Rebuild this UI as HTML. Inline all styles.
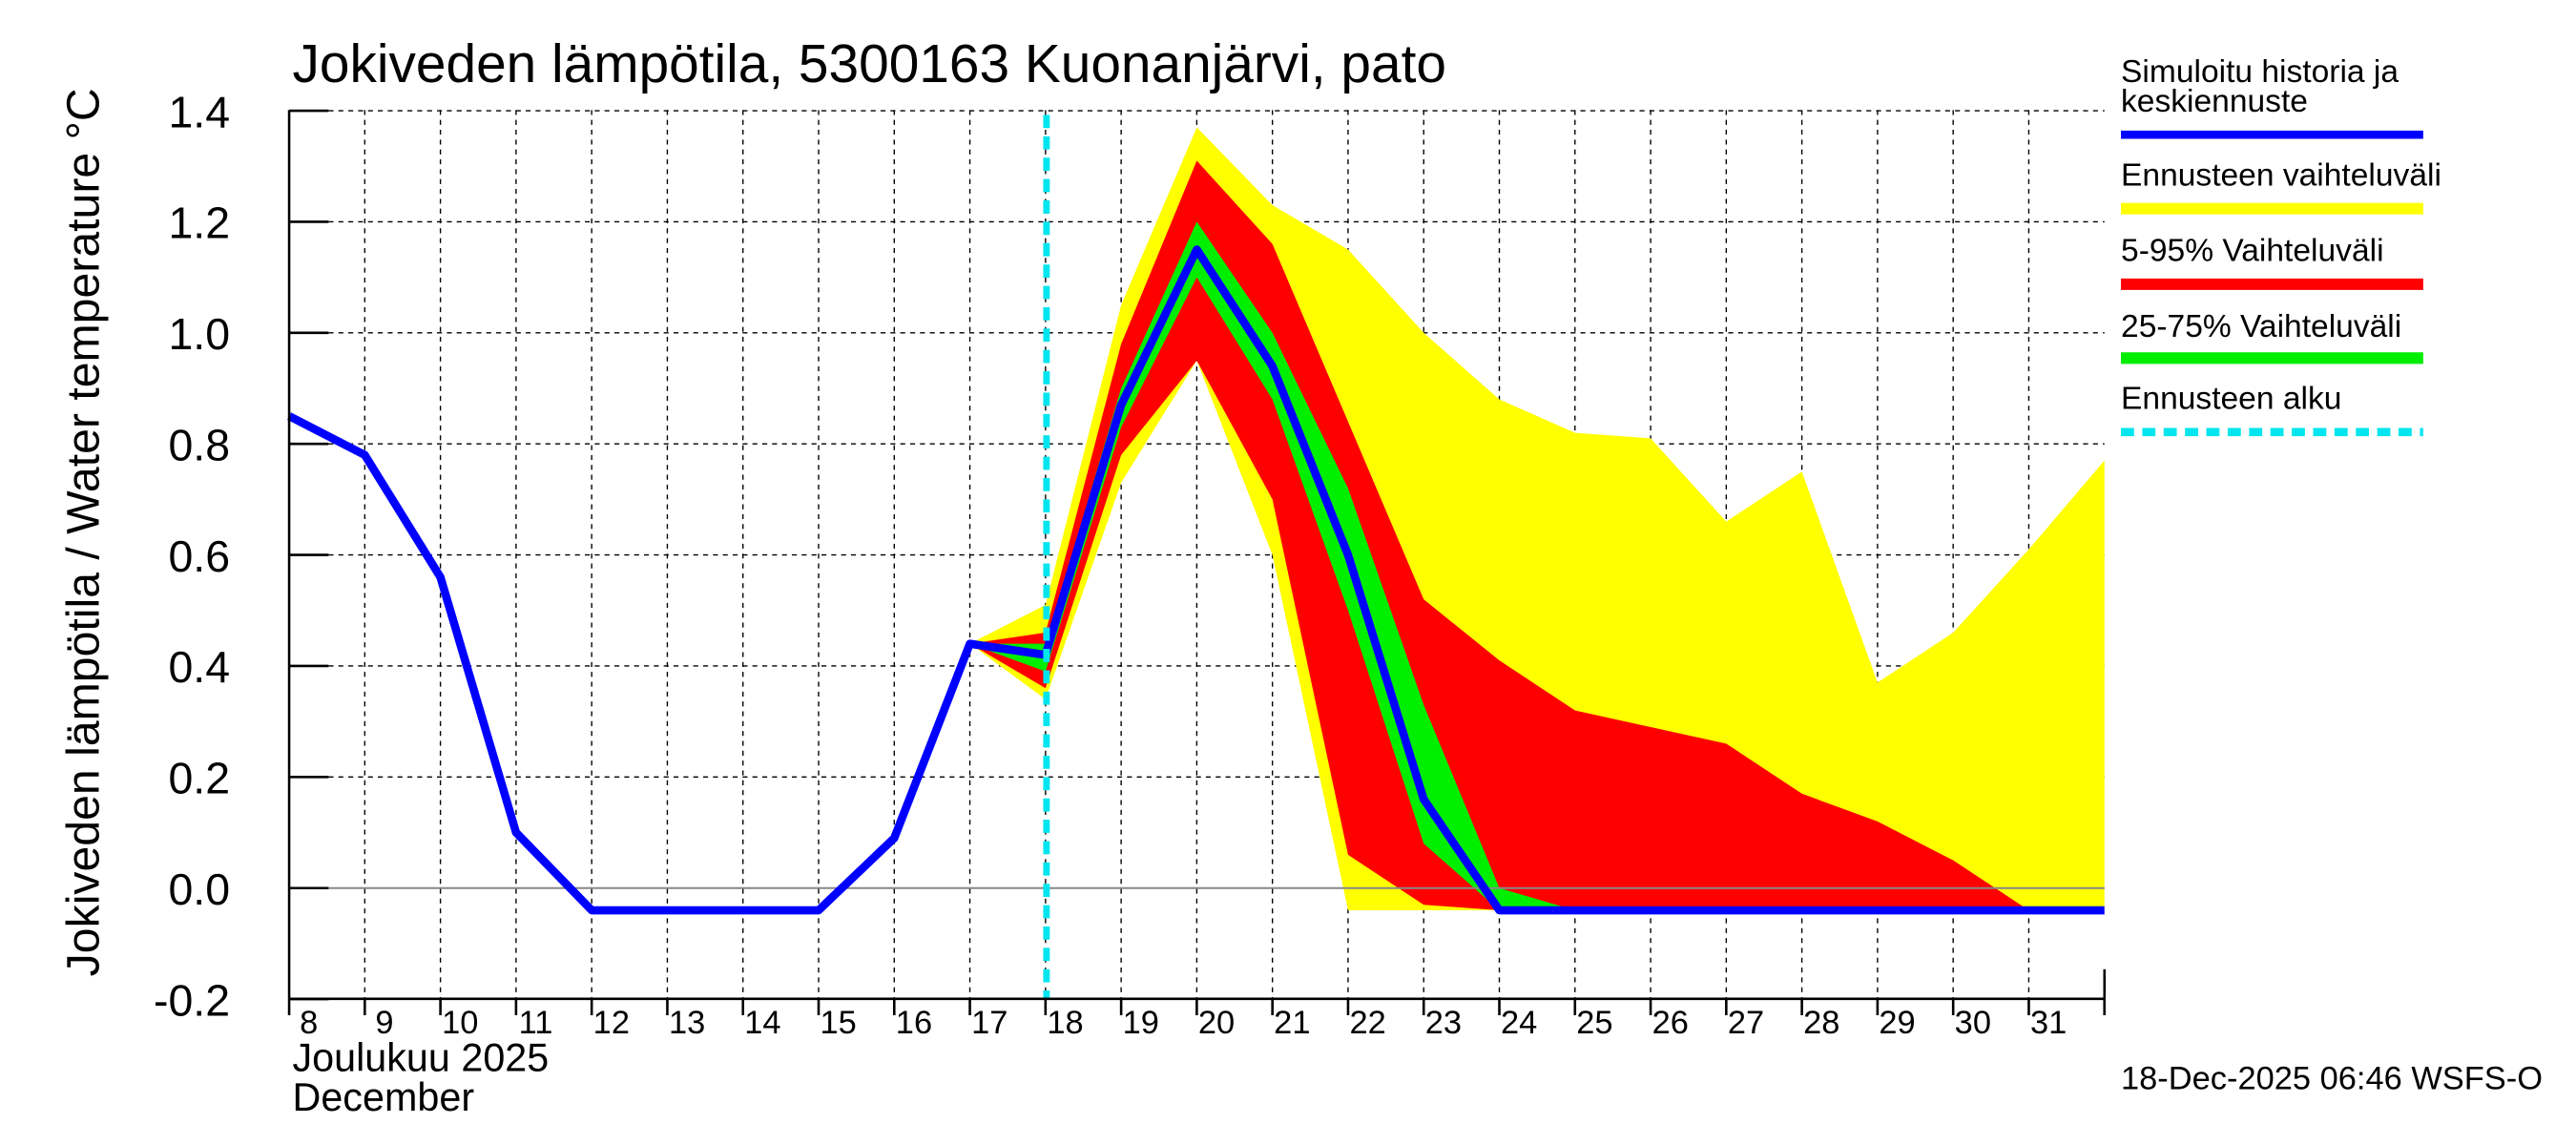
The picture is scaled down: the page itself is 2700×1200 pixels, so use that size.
<!DOCTYPE html>
<html><head><meta charset="utf-8"><style>
html,body{margin:0;padding:0;background:#fff;}
svg{display:block;}
text{font-family:"Liberation Sans",sans-serif;fill:#000;}
</style></head><body>
<svg id="s" width="2700" height="1200" viewBox="0 0 1568 697" preserveAspectRatio="none" xmlns="http://www.w3.org/2000/svg">
<rect width="1568" height="697" fill="#fff"/>
<g id="grid" stroke="#000" stroke-width="0.8" stroke-dasharray="3,3"></g>
<g id="bands"></g>
<line x1="176" y1="540.6" x2="1281" y2="540.6" stroke="#888" stroke-width="1.2"/>
<polyline id="blue" fill="none" stroke="#0000ff" stroke-width="5" stroke-linejoin="round"/>
<line x1="637" y1="70" x2="637" y2="608" stroke="#00e5ee" stroke-width="4" stroke-dasharray="8,5"/>
<g id="axes" stroke="#000" stroke-width="1.5"></g>
<g id="labels"></g>
<text x="178" y="50" font-size="33">Jokiveden lämpötila, 5300163 Kuonanjärvi, pato</text>
<text transform="translate(60,324) rotate(-90)" font-size="28" text-anchor="middle">Jokiveden lämpötila / Water temperature    °C</text>
<text x="178" y="652" font-size="24">Joulukuu  2025</text>
<text x="178" y="676" font-size="24">December</text>
<text x="1291" y="50" font-size="19.5">Simuloitu historia ja</text>
<text x="1291" y="68" font-size="19.5">keskiennuste</text>
<line x1="1291" y1="82" x2="1475" y2="82" stroke="#0000ff" stroke-width="5"/>
<text x="1291" y="113" font-size="19.5">Ennusteen vaihteluväli</text>
<line x1="1291" y1="127" x2="1475" y2="127" stroke="#ffff00" stroke-width="7"/>
<text x="1291" y="159" font-size="19.5">5-95% Vaihteluväli</text>
<line x1="1291" y1="173" x2="1475" y2="173" stroke="#ff0000" stroke-width="7"/>
<text x="1291" y="205" font-size="19.5">25-75% Vaihteluväli</text>
<line x1="1291" y1="218" x2="1475" y2="218" stroke="#00ee00" stroke-width="7"/>
<text x="1291" y="249" font-size="19.5">Ennusteen alku</text>
<line x1="1291" y1="263" x2="1475" y2="263" stroke="#00e5ee" stroke-width="5" stroke-dasharray="8,5"/>
<text x="1291" y="663" font-size="20">18-Dec-2025 06:46 WSFS-O</text>
</svg>
<script>
var NS="http://www.w3.org/2000/svg";
function X(d){return 176+(d-8)*46.04;}
function Y(v){return 540.6-v*338;}
function el(p,t,a,txt){var e=document.createElementNS(NS,t);for(var k in a)e.setAttribute(k,a[k]);if(txt!=null)e.textContent=txt;document.getElementById(p).appendChild(e);return e;}
var labs=["-0.2","0.0","0.2","0.4","0.6","0.8","1.0","1.2","1.4"];
for(var i=0;i<9;i++){var v=-0.2+i*0.2,y=Y(v);
 if(i>1)el("grid","line",{x1:176,y1:y,x2:1281,y2:y});
 el("axes","line",{x1:176,y1:y,x2:200,y2:y});
 el("labels","text",{x:140,y:y+10,"font-size":27,"text-anchor":"end"},labs[i]);}
for(var d=9;d<=31;d++){el("grid","line",{x1:X(d),y1:67,x2:X(d),y2:608});}
for(var d=8;d<=32;d++){el("axes","line",{x1:X(d),y1:608,x2:X(d),y2:618});}
for(var d=8;d<=31;d++){el("labels","text",{x:X(d)+12,y:629,"font-size":20,"text-anchor":"middle"},String(d));}
el("axes","line",{x1:176,y1:67,x2:176,y2:608});
el("axes","line",{x1:176,y1:608,x2:1281,y2:608});
el("axes","line",{x1:1281,y1:608,x2:1281,y2:590});
function band(up,lo,col){var s=[];for(var i=0;i<up.length;i++)s.push(X(up[i][0])+","+Y(up[i][1]));for(var i=lo.length-1;i>=0;i--)s.push(X(lo[i][0])+","+Y(lo[i][1]));el("bands","polygon",{points:s.join(" "),fill:col});}
band([[17,.44],[18,.51],[19,1.05],[20,1.37],[21,1.23],[22,1.15],[23,1.0],[24,.88],[25,.82],[26,.81],[27,.66],[28,.75],[29,.37],[30,.46],[31,.61],[32,.77]],
 [[17,.44],[18,.34],[19,.73],[20,.95],[21,.6],[22,-.04],[32,-.04]],"#ffff00");
band([[17,.44],[18,.46],[19,.98],[20,1.31],[21,1.16],[22,.84],[23,.52],[24,.41],[25,.32],[26,.29],[27,.26],[28,.17],[29,.12],[30,.05],[31,-.04]],
 [[17,.44],[18,.36],[19,.78],[20,.95],[21,.7],[22,.06],[23,-.03],[24,-.04],[31,-.04]],"#ff0000");
band([[17,.44],[18,.44],[19,.9],[20,1.2],[21,1.0],[22,.72],[23,.33],[24,0],[25,-.04]],
 [[17,.44],[18,.39],[19,.83],[20,1.1],[21,.88],[22,.5],[23,.08],[24,-.04],[25,-.04]],"#00ee00");
var b=[[8,.85],[9,.78],[10,.56],[11,.1],[12,-.04],[15,-.04],[16,.09],[17,.44],[18,.42],[19,.87],[20,1.15],[21,.94],[22,.6],[23,.16],[24,-.04],[32,-.04]];
document.getElementById("blue").setAttribute("points",b.map(function(p){return X(p[0])+","+Y(p[1]);}).join(" "));
</script>
</body></html>
